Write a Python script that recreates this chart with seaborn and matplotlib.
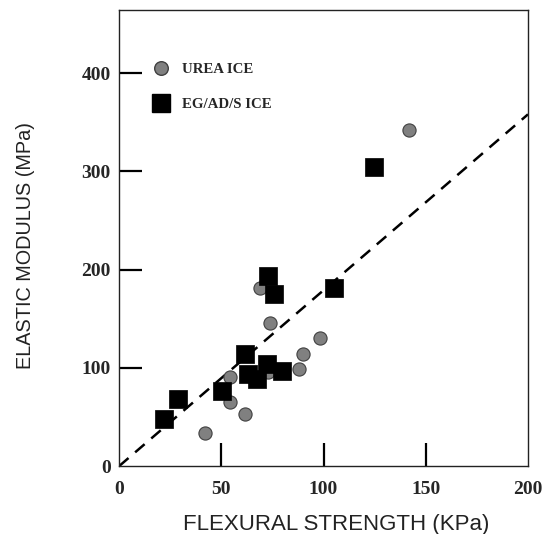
import matplotlib
matplotlib.use("Agg")
import matplotlib.pyplot as plt
from matplotlib.lines import Line2D
import seaborn as sns
import pandas as pd
import numpy as np

# Data
urea_x = [68.8, 73.8, 98.4, 89.8, 87.9, 72.9, 54.3, 54.1, 61.5, 42.1, 141.8]
urea_y = [180.9, 145.9, 130.0, 114.3, 98.4, 95.4, 90.3, 64.8, 53.6, 33.9, 342.0]
eg_x = [73.0, 75.9, 105.0, 61.6, 72.2, 63.2, 67.6, 79.9, 50.2, 28.7, 22.2, 124.7]
eg_y = [193.7, 174.7, 180.9, 113.7, 103.8, 94.0, 88.5, 96.4, 76.7, 67.9, 48.2, 304.3]
series_names = ["UREA ICE", "EG/AD/S ICE"]
fit_slope = 1.79
x_ticks = [0, 50, 100, 150, 200]
y_ticks = [0, 100, 200, 300, 400]

df = pd.DataFrame({
    "x": urea_x + eg_x,
    "y": urea_y + eg_y,
    "type": [series_names[0]] * len(urea_x) + [series_names[1]] * len(eg_x),
})

sns.set_style("white")
fig = plt.figure(figsize=(5.46, 5.34), dpi=100)
ax = fig.add_axes([0.218, 0.127, 0.749, 0.854])

# fit line
fx = np.array([0, 200])
ax.plot(fx, fit_slope * fx, ls=(0, (5, 3.5)), color="black", lw=1.8, zorder=1)

sns.scatterplot(data=df[df.type == series_names[0]], x="x", y="y", ax=ax,
                color="#808080", edgecolor="#404040", linewidth=0.8,
                marker="o", s=90, legend=False, zorder=3)
sns.scatterplot(data=df[df.type == series_names[1]], x="x", y="y", ax=ax,
                color="black", edgecolor="black", linewidth=0.5,
                marker="s", s=155, legend=False, zorder=4)

ax.set_xlim(0, 200)
ax.set_ylim(0, 464)
ax.set_xticks(x_ticks)
ax.set_yticks(y_ticks)
ax.set_xticklabels([str(t) for t in x_ticks], fontfamily="Liberation Serif",
                   fontweight="bold", fontsize=14)
ax.set_yticklabels([str(t) for t in y_ticks], fontfamily="Liberation Serif",
                   fontweight="bold", fontsize=14)
ax.tick_params(axis="both", which="major", direction="in", length=16.5, width=1.6,
               color="black", bottom=True, left=True, top=False, right=False)
ax.tick_params(axis="y", pad=6)
ax.tick_params(axis="x", pad=11)
# no tick marks at the corners (0 and 200)
for i, t in enumerate(ax.xaxis.get_major_ticks()):
    if x_ticks[i] in (0, 200):
        t.tick1line.set_visible(False)
for i, t in enumerate(ax.yaxis.get_major_ticks()):
    if y_ticks[i] == 0:
        t.tick1line.set_visible(False)

for side in ["left", "right", "top", "bottom"]:
    ax.spines[side].set_visible(True)
    ax.spines[side].set_color("#222222")
    ax.spines[side].set_linewidth(1.0)

ax.set_xlabel("FLEXURAL STRENGTH (KPa)", fontfamily="Liberation Sans",
              fontsize=16, color="#222222")
ax.set_ylabel("ELASTIC MODULUS (MPa)", fontfamily="Liberation Sans",
              fontsize=14.3, color="#222222")
ax.xaxis.set_label_coords(0.53, -0.105)
ax.yaxis.set_label_coords(-0.205, 0.485)

handles = [
    Line2D([], [], ls="none", marker="o", markersize=9.8, markerfacecolor="#808080",
           markeredgecolor="#404040"),
    Line2D([], [], ls="none", marker="s", markersize=12.5, markerfacecolor="black",
           markeredgecolor="black"),
]
ax.legend(handles, series_names, loc="upper left", bbox_to_anchor=(0.081, 0.885),
          frameon=False, borderpad=0, borderaxespad=0, handlelength=1.2,
          handletextpad=0.8, labelspacing=1.45,
          prop={"family": "Liberation Serif", "weight": "bold", "size": 10.7})

fig.savefig("out.png", dpi=100)
